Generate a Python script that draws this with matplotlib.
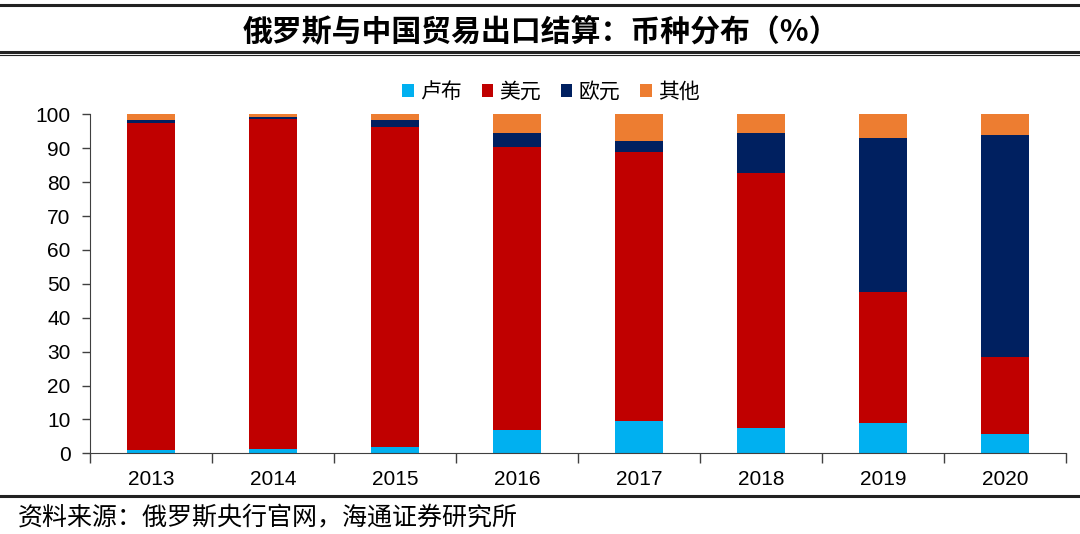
import matplotlib
matplotlib.use("Agg")
import matplotlib.pyplot as plt
from matplotlib.lines import Line2D
from matplotlib.patches import Patch
import numpy as np

plt.rcParams['font.family'] = ['Liberation Sans', 'Noto Sans CJK SC', 'DejaVu Sans']

years = ['2013', '2014', '2015', '2016', '2017', '2018', '2019', '2020']
ruble = [1.0, 1.3, 1.9, 6.8, 9.5, 7.5, 8.8, 5.8]
usd = [96.3, 97.3, 94.3, 83.5, 79.3, 75.1, 38.7, 22.6]
eur = [1.0, 0.7, 2.1, 4.1, 3.2, 12.0, 45.6, 65.4]
other = [100 - r - u - e for r, u, e in zip(ruble, usd, eur)]

series = [ruble, usd, eur, other]
labels = ['卢布', '美元', '欧元', '其他']
colors = ['#00B0F0', '#C00000', '#002060', '#ED7D31']

fig = plt.figure(figsize=(10.8, 5.34), dpi=100)
ax = fig.add_axes([90/1080, (534-453.3)/534, (1066-90)/1080, (453.3-114.3)/534])

x = np.arange(len(years))
bottom = np.zeros(len(years))
for vals, lab, col in zip(series, labels, colors):
    ax.bar(x, vals, width=0.4, bottom=bottom, color=col, label=lab, edgecolor='none')
    bottom += np.array(vals)

ax.set_xlim(-0.5, len(years) - 0.5)
ax.set_ylim(0, 100)
ax.set_yticks(range(0, 101, 10))
ax.set_xticks(x)
ax.set_xticklabels(years)
ax.set_xticks(np.arange(-0.5, len(years), 1), minor=True)
ax.tick_params(axis='x', which='major', length=0, labelsize=15, pad=12)
ax.tick_params(axis='x', which='minor', length=7, width=1, direction='out', color='#404040')
ax.tick_params(axis='y', length=6, width=1, direction='out', labelsize=15, color='#404040', pad=8)
for s in ['top', 'right']:
    ax.spines[s].set_visible(False)
ax.spines['left'].set_color('#404040')
ax.spines['bottom'].set_color('#404040')

handles = [Patch(facecolor=c, edgecolor='none') for c in colors]
fig.legend(handles, labels, loc='center', bbox_to_anchor=(551/1080, 1 - 92/534),
           ncol=4, frameon=False, handlelength=0.55, handleheight=0.55,
           handletextpad=0.3, columnspacing=0.95,
           prop={'family': ['Noto Sans CJK SC'], 'size': 15})

fig.text(541/1080, 1 - 31/534, '俄罗斯与中国贸易出口结算：币种分布（%）',
         ha='center', va='center', fontsize=21.5, fontweight='bold',
         family=['Noto Sans CJK SC', 'DejaVu Sans'])

fig.add_artist(Line2D([0, 1], [1 - 5/534, 1 - 5/534], transform=fig.transFigure, color='#222222', lw=2.2))
fig.add_artist(Line2D([0, 1], [1 - 51.5/534, 1 - 51.5/534], transform=fig.transFigure, color='#222222', lw=2.2))
fig.add_artist(Line2D([0, 1], [1 - 54.5/534, 1 - 54.5/534], transform=fig.transFigure, color='#222222', lw=0.8))
fig.add_artist(Line2D([0, 1], [1 - 496/534, 1 - 496/534], transform=fig.transFigure, color='#222222', lw=2.2))

fig.text(18/1080, 1 - 517/534, '资料来源：俄罗斯央行官网，海通证券研究所',
         ha='left', va='center', fontsize=18, family=['Noto Sans CJK SC', 'DejaVu Sans'])

fig.savefig('out.png', dpi=100)
